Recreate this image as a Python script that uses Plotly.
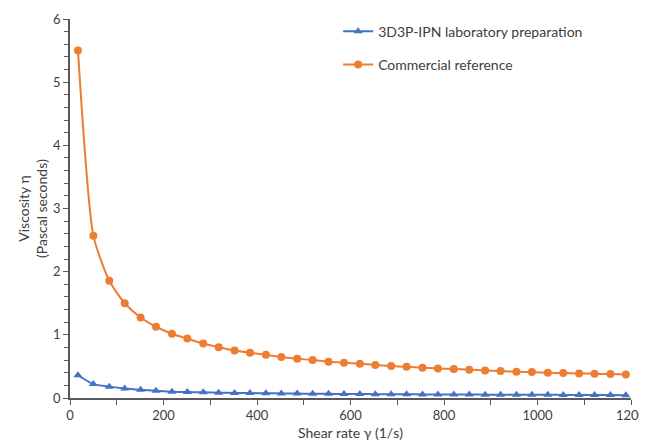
import plotly.graph_objects as go

shear_rate = [17, 50, 84, 117, 151, 184, 218, 251, 285, 318, 352, 385, 419, 452,
              486, 519, 553, 586, 620, 653, 687, 720, 754, 787, 821, 854, 888, 921,
              955, 988, 1022, 1055, 1089, 1122, 1156, 1189]

lab_prep = [0.36, 0.22, 0.18, 0.15, 0.13, 0.115, 0.10, 0.095, 0.09, 0.085, 0.08, 0.078,
            0.075, 0.073, 0.07, 0.068, 0.066, 0.064, 0.062, 0.061, 0.06, 0.058, 0.057,
            0.056, 0.055, 0.054, 0.053, 0.052, 0.051, 0.05, 0.05, 0.049, 0.048, 0.047,
            0.046, 0.045]

commercial = [5.50, 2.57, 1.856, 1.50, 1.275, 1.128, 1.017, 0.94, 0.862, 0.804, 0.753,
              0.717, 0.683, 0.649, 0.622, 0.601, 0.574, 0.558, 0.543, 0.522, 0.506,
              0.495, 0.479, 0.468, 0.459, 0.448, 0.435, 0.427, 0.416, 0.411, 0.40,
              0.395, 0.389, 0.384, 0.379, 0.372]

series_names = ["3D3P-IPN laboratory preparation", "Commercial reference"]
x_title = "Shear rate γ (1/s)"
y_title = "Viscosity η<br>(Pascal seconds)"

BLUE = "#4472C4"
ORANGE = "#ED7D31"
TEXT = "#404040"
AXIS = "#595959"
FONT = "Lato, Open Sans, sans-serif"

fig = go.Figure()
fig.add_trace(go.Scatter(
    x=shear_rate, y=lab_prep, name=series_names[0], mode="lines+markers",
    line=dict(color=BLUE, width=2, shape="spline", smoothing=0.6),
    marker=dict(symbol="triangle-up", size=8, color=BLUE),
    legendgroup="a"))
fig.add_trace(go.Scatter(
    x=shear_rate, y=commercial, name=series_names[1], mode="lines+markers",
    line=dict(color=ORANGE, width=2, shape="spline", smoothing=0.6),
    marker=dict(symbol="circle", size=8, color=ORANGE),
    legendgroup="b"))

fig.update_layout(
    width=639, height=433,
    margin=dict(l=62, r=16, t=11, b=43, autoexpand=False),
    paper_bgcolor="white", plot_bgcolor="white",
    font=dict(family=FONT, size=13, color=TEXT),
    legend=dict(x=0.478, y=1.009, xanchor="left", yanchor="top",
                traceorder="grouped", tracegroupgap=12,
                font=dict(family=FONT, size=14, color=TEXT),
                bgcolor="rgba(0,0,0,0)", itemwidth=30),
    xaxis=dict(range=[0, 1200], dtick=200, tick0=0, showgrid=False, zeroline=False,
               showline=True, linecolor=AXIS, linewidth=1.5, automargin=False,
               ticks="outside", ticklen=5, tickcolor=AXIS,
               minor=dict(dtick=100, ticks="outside", ticklen=5, tickcolor=AXIS),
               tickfont=dict(size=13, color=TEXT),
               title=dict(text=x_title, standoff=8, font=dict(size=14, color=TEXT))),
    yaxis=dict(range=[0, 6], dtick=1, tick0=0, showgrid=False, zeroline=False,
               showline=True, linecolor=AXIS, linewidth=1.5, automargin=False,
               ticks="outside", ticklen=5, tickcolor=AXIS,
               minor=dict(dtick=0.2, ticks="outside", ticklen=4, tickcolor=AXIS),
               tickfont=dict(size=13, color=TEXT),
               title=dict(text=y_title, standoff=2, font=dict(size=14, color=TEXT))),
)

fig.write_html("out.html")
